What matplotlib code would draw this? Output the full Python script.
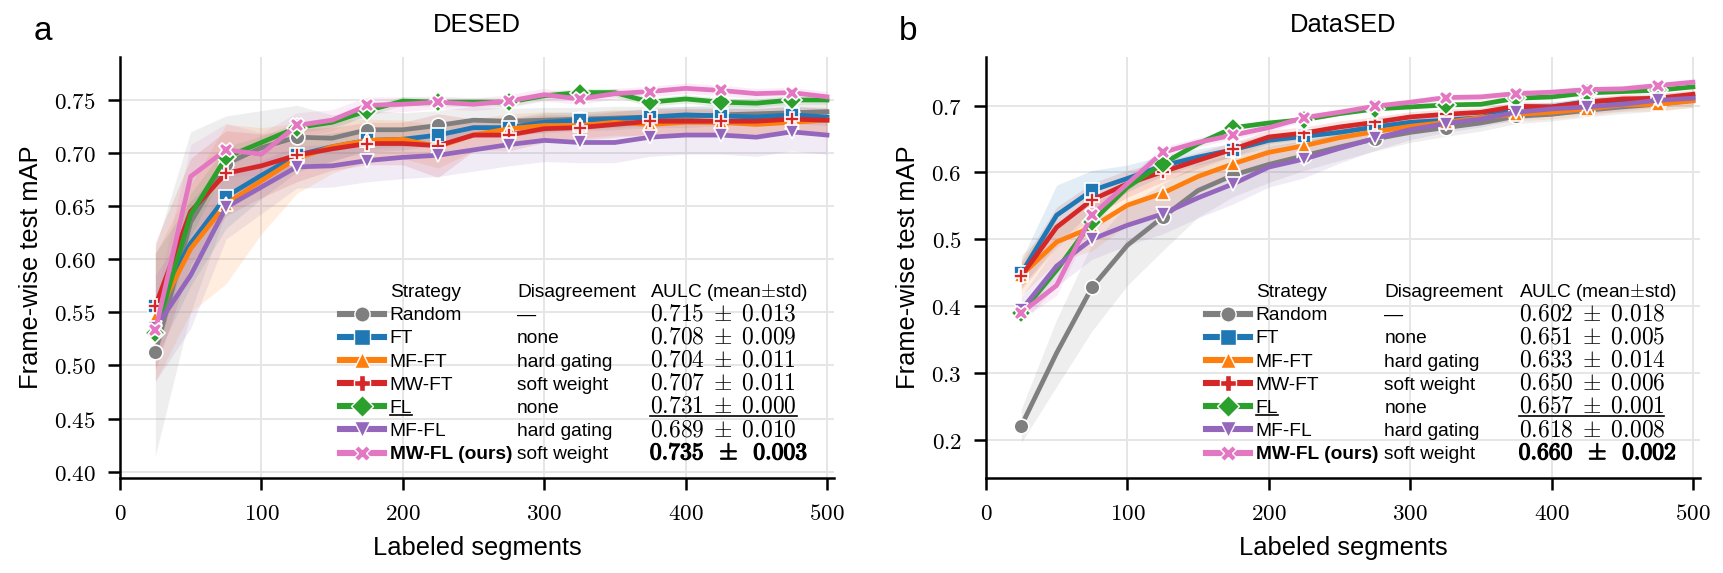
import numpy as np
import matplotlib
matplotlib.use('Agg')
import matplotlib.pyplot as plt
import matplotlib.patheffects as pe
from matplotlib.lines import Line2D
from matplotlib.ticker import FuncFormatter, MultipleLocator

plt.rcParams['font.family'] = ['Liberation Sans', 'DejaVu Sans']
plt.rcParams['mathtext.fontset'] = 'cm'

segments = [25, 50, 75, 100, 125, 150, 175, 200, 225, 250,
            275, 300, 325, 350, 375, 400, 425, 450, 475, 500]

strategies = ['Random', 'FT', 'MF-FT', 'MW-FT', 'FL', 'MF-FL', 'MW-FL (ours)']
disagreement = ['\u2014', 'none', 'hard gating', 'soft weight', 'none', 'hard gating', 'soft weight']
colors = ['#7f7f7f', '#1f77b4', '#ff7f0e', '#d62728', '#2ca02c', '#9467bd', '#e377c2']
markers = ['o', 's', '^', 'P', 'D', 'v', 'X']

# ---- DESED ----
desed_random = [0.513, 0.635, 0.690, 0.705, 0.715, 0.714, 0.722, 0.722, 0.726, 0.731,
                0.730, 0.731, 0.732, 0.733, 0.734, 0.734, 0.736, 0.737, 0.738, 0.739]
desed_ft = [0.556, 0.615, 0.659, 0.679, 0.698, 0.706, 0.712, 0.713, 0.717, 0.724,
            0.724, 0.729, 0.731, 0.732, 0.734, 0.736, 0.735, 0.734, 0.736, 0.734]
desed_mfft = [0.545, 0.610, 0.652, 0.674, 0.695, 0.706, 0.712, 0.713, 0.706, 0.717,
              0.723, 0.726, 0.726, 0.729, 0.727, 0.729, 0.729, 0.727, 0.729, 0.731]
desed_mwft = [0.556, 0.645, 0.681, 0.688, 0.698, 0.704, 0.709, 0.709, 0.707, 0.717,
              0.717, 0.723, 0.724, 0.727, 0.730, 0.730, 0.730, 0.730, 0.732, 0.731]
desed_fl = [0.531, 0.642, 0.696, 0.710, 0.724, 0.729, 0.740, 0.749, 0.748, 0.748,
            0.748, 0.754, 0.757, 0.757, 0.748, 0.751, 0.748, 0.747, 0.750, 0.750]
desed_mffl = [0.535, 0.585, 0.649, 0.668, 0.687, 0.688, 0.693, 0.696, 0.698, 0.703,
              0.708, 0.712, 0.710, 0.710, 0.715, 0.717, 0.717, 0.715, 0.720, 0.717]
desed_mwfl = [0.533, 0.678, 0.703, 0.699, 0.726, 0.731, 0.745, 0.746, 0.748, 0.746,
              0.749, 0.755, 0.751, 0.756, 0.758, 0.761, 0.759, 0.756, 0.757, 0.753]

desed_random_std = [0.098, 0.085, 0.045, 0.035, 0.030, 0.022, 0.018, 0.016, 0.014, 0.013,
                    0.012, 0.012, 0.011, 0.011, 0.010, 0.010, 0.010, 0.010, 0.009, 0.009]
desed_ft_std = [0.050, 0.040, 0.030, 0.022, 0.016, 0.013, 0.011, 0.010, 0.010, 0.009,
                0.009, 0.009, 0.008, 0.008, 0.008, 0.008, 0.008, 0.008, 0.008, 0.008]
desed_mfft_std = [0.060, 0.060, 0.075, 0.050, 0.033, 0.025, 0.020, 0.018, 0.020, 0.015,
                  0.014, 0.013, 0.012, 0.012, 0.012, 0.012, 0.011, 0.011, 0.011, 0.011]
desed_mwft_std = [0.060, 0.050, 0.040, 0.030, 0.025, 0.020, 0.020, 0.020, 0.030, 0.015,
                  0.015, 0.013, 0.012, 0.012, 0.012, 0.012, 0.012, 0.012, 0.012, 0.012]
desed_fl_std = [0.025, 0.020, 0.010, 0.006, 0.005, 0.005, 0.005, 0.004, 0.004, 0.004,
                0.004, 0.004, 0.004, 0.004, 0.004, 0.004, 0.004, 0.004, 0.004, 0.004]
desed_mffl_std = [0.050, 0.050, 0.030, 0.025, 0.020, 0.020, 0.020, 0.020, 0.020, 0.020,
                  0.020, 0.020, 0.019, 0.019, 0.018, 0.018, 0.018, 0.018, 0.018, 0.018]
desed_mwfl_std = [0.030, 0.030, 0.025, 0.020, 0.012, 0.010, 0.008, 0.007, 0.006, 0.006,
                  0.006, 0.006, 0.005, 0.005, 0.005, 0.005, 0.005, 0.005, 0.005, 0.005]

desed_aulc = [0.715, 0.708, 0.704, 0.707, 0.731, 0.689, 0.735]
desed_aulc_std = [0.013, 0.009, 0.011, 0.011, 0.000, 0.010, 0.003]

# ---- DataSED ----
datased_random = [0.221, 0.330, 0.428, 0.491, 0.533, 0.573, 0.596, 0.612, 0.625, 0.638,
                  0.650, 0.660, 0.667, 0.674, 0.684, 0.687, 0.693, 0.698, 0.702, 0.708]
datased_ft = [0.449, 0.536, 0.573, 0.591, 0.610, 0.623, 0.634, 0.648, 0.654, 0.660,
              0.668, 0.675, 0.678, 0.682, 0.698, 0.698, 0.706, 0.708, 0.710, 0.713]
datased_mfft = [0.446, 0.496, 0.518, 0.551, 0.569, 0.594, 0.613, 0.630, 0.640, 0.652,
                0.661, 0.669, 0.675, 0.682, 0.687, 0.690, 0.695, 0.701, 0.702, 0.707]
datased_mwft = [0.445, 0.518, 0.559, 0.583, 0.601, 0.618, 0.635, 0.653, 0.659, 0.668,
                0.675, 0.683, 0.687, 0.690, 0.699, 0.698, 0.705, 0.710, 0.711, 0.717]
datased_fl = [0.390, 0.454, 0.526, 0.578, 0.613, 0.643, 0.667, 0.674, 0.679, 0.688,
              0.695, 0.698, 0.701, 0.702, 0.711, 0.713, 0.719, 0.721, 0.723, 0.728]
datased_mffl = [0.394, 0.460, 0.500, 0.521, 0.538, 0.562, 0.583, 0.608, 0.620, 0.636,
                0.651, 0.664, 0.673, 0.680, 0.690, 0.695, 0.698, 0.702, 0.708, 0.711]
datased_mwfl = [0.390, 0.431, 0.536, 0.583, 0.630, 0.645, 0.656, 0.667, 0.682, 0.690,
                0.699, 0.705, 0.712, 0.713, 0.718, 0.720, 0.724, 0.725, 0.730, 0.735]

datased_random_std = [0.025, 0.050, 0.065, 0.060, 0.050, 0.040, 0.032, 0.027, 0.022, 0.020,
                      0.018, 0.015, 0.013, 0.012, 0.011, 0.010, 0.010, 0.010, 0.010, 0.010]
datased_ft_std = [0.020, 0.045, 0.030, 0.020, 0.015, 0.012, 0.010, 0.010, 0.008, 0.008,
                  0.007, 0.007, 0.006, 0.006, 0.006, 0.006, 0.006, 0.006, 0.006, 0.006]
datased_mfft_std = [0.030, 0.030, 0.035, 0.030, 0.030, 0.025, 0.020, 0.018, 0.015, 0.015,
                    0.012, 0.012, 0.010, 0.010, 0.010, 0.010, 0.010, 0.010, 0.010, 0.010]
datased_mwft_std = [0.020, 0.030, 0.025, 0.020, 0.015, 0.012, 0.010, 0.010, 0.009, 0.009,
                    0.008, 0.008, 0.008, 0.007, 0.007, 0.007, 0.007, 0.007, 0.007, 0.007]
datased_fl_std = [0.006, 0.006, 0.005, 0.005, 0.004, 0.004, 0.004, 0.003, 0.003, 0.003,
                  0.003, 0.003, 0.003, 0.003, 0.003, 0.003, 0.003, 0.003, 0.003, 0.003]
datased_mffl_std = [0.020, 0.030, 0.030, 0.030, 0.030, 0.030, 0.030, 0.030, 0.028, 0.022,
                    0.018, 0.015, 0.013, 0.012, 0.011, 0.010, 0.010, 0.010, 0.010, 0.010]
datased_mwfl_std = [0.010, 0.015, 0.012, 0.010, 0.008, 0.007, 0.006, 0.006, 0.005, 0.005,
                    0.005, 0.005, 0.005, 0.005, 0.005, 0.005, 0.005, 0.005, 0.005, 0.005]

datased_aulc = [0.602, 0.651, 0.633, 0.650, 0.657, 0.618, 0.660]
datased_aulc_std = [0.018, 0.005, 0.014, 0.006, 0.001, 0.008, 0.002]

LEG_FS = 6.9
NUM_FS = 8.5


def draw_panel(ax, title, means, stds, ylim, ystep, ydec):
    for i in range(len(strategies)):
        m = np.array(means[i])
        s = np.array(stds[i])
        ax.fill_between(segments, m - s, m + s, color=colors[i], alpha=0.13, lw=0, zorder=1)
    for i in range(len(strategies)):
        ax.plot(segments, means[i], color=colors[i], lw=1.7, marker=markers[i],
                markevery=2, ms=5.3, mec='white', mew=0.6, zorder=3 + i)

    ax.set_xlim(0, 505)
    ax.set_ylim(*ylim)
    ax.xaxis.set_major_locator(MultipleLocator(100))
    ax.yaxis.set_major_locator(MultipleLocator(ystep))
    ax.xaxis.set_major_formatter(FuncFormatter(lambda v, p: '$%d$' % v))
    ax.yaxis.set_major_formatter(FuncFormatter(lambda v, p: '$%.*f$' % (ydec, v)))
    ax.grid(color='#e6e6e6', lw=0.7)
    ax.set_axisbelow(True)
    for sp in ['top', 'right']:
        ax.spines[sp].set_visible(False)
    for sp in ['left', 'bottom']:
        ax.spines[sp].set_linewidth(0.9)
    ax.tick_params(labelsize=8.3, length=4.2, width=0.9, pad=4.5)
    ax.set_xlabel('Labeled segments', fontsize=9.2)
    ax.set_ylabel('Frame-wise test mAP', fontsize=9.2)
    ax.set_title(title, fontsize=9.2, pad=9)

    header = Line2D([], [], linestyle='none')
    handles = [header] + [Line2D([], [], color=colors[i], marker=markers[i], lw=2.2, ms=5.5,
                                 mec='white', mew=0.5) for i in range(len(strategies))]
    leg = ax.legend(handles, ['Strategy'] + strategies, loc='lower left',
                    bbox_to_anchor=(0.308, 0.035), frameon=False, fontsize=LEG_FS,
                    handlelength=2.3, handletextpad=0.3, labelspacing=0.3,
                    borderpad=0, borderaxespad=0)
    leg.get_texts()[-1].set_fontweight('bold')
    return leg


fig = plt.figure(figsize=(8.62, 2.865), dpi=200)
ax1 = fig.add_axes([0.0696, 0.1658, 0.4142, 0.7347])
ax2 = fig.add_axes([0.5719, 0.1658, 0.4142, 0.7347])

leg1 = draw_panel(ax1, 'DESED',
                  [desed_random, desed_ft, desed_mfft, desed_mwft, desed_fl, desed_mffl, desed_mwfl],
                  [desed_random_std, desed_ft_std, desed_mfft_std, desed_mwft_std, desed_fl_std,
                   desed_mffl_std, desed_mwfl_std],
                  (0.394, 0.7905), 0.05, 2)
leg2 = draw_panel(ax2, 'DataSED',
                  [datased_random, datased_ft, datased_mfft, datased_mwft, datased_fl,
                   datased_mffl, datased_mwfl],
                  [datased_random_std, datased_ft_std, datased_mfft_std, datased_mwft_std,
                   datased_fl_std, datased_mffl_std, datased_mwfl_std],
                  (0.1428, 0.7727), 0.1, 1)

fig.text(0.025, 0.945, 'a', fontsize=12, ha='center', va='center')
fig.text(0.527, 0.945, 'b', fontsize=12, ha='center', va='center')

# table columns next to the legend
fig.canvas.draw()
renderer = fig.canvas.get_renderer()


def underline(ax, txt, drop_px=2.5):
    bb = txt.get_window_extent(renderer)
    base = txt.get_transform().transform(txt.get_position())[1]
    inv = ax.transAxes.inverted()
    (x0, y0), (x1, _) = inv.transform([(bb.x0, base - drop_px), (bb.x1, base)])
    ax.plot([x0, x1], [y0, y0], color='black', lw=0.6, transform=ax.transAxes,
            clip_on=False, zorder=20)


for ax, leg, aulc, aulc_std, xd, xa in [(ax1, leg1, desed_aulc, desed_aulc_std, 0.556, 0.742),
                                         (ax2, leg2, datased_aulc, datased_aulc_std, 0.558, 0.746)]:
    inv = ax.transAxes.inverted()
    texts = leg.get_texts()
    rows = []
    for t in texts:
        disp = t.get_transform().transform(t.get_position())
        rows.append(inv.transform(disp)[1])
    ax.text(xd, rows[0], 'Disagreement', fontsize=LEG_FS, va='baseline', transform=ax.transAxes)
    ax.text(xa, rows[0], r'AULC (mean$\pm$std)', fontsize=LEG_FS, va='baseline',
            transform=ax.transAxes)
    best = int(np.argmax(aulc))
    second = int(np.argsort(aulc)[-2])
    for i in range(len(strategies)):
        y = rows[i + 1]
        ax.text(xd, y, disagreement[i], fontsize=LEG_FS, va='baseline', transform=ax.transAxes)
        if i == best:
            s = r'$%.3f\;\;\pm\;\;%.3f$' % (aulc[i], aulc_std[i])
        else:
            s = r'$%.3f\;\pm\;%.3f$' % (aulc[i], aulc_std[i])
        t = ax.text(xa, y, s, fontsize=NUM_FS, va='baseline', transform=ax.transAxes)
        if i == best:
            # cm bold digits via a thin stroke
            t.set_path_effects([pe.withStroke(linewidth=0.45, foreground='black')])
        if i == second:
            fig.canvas.draw()
            underline(ax, t, 3.5)
            underline(ax, texts[i + 1], 2.0)

fig.savefig('out.png', dpi=200)
